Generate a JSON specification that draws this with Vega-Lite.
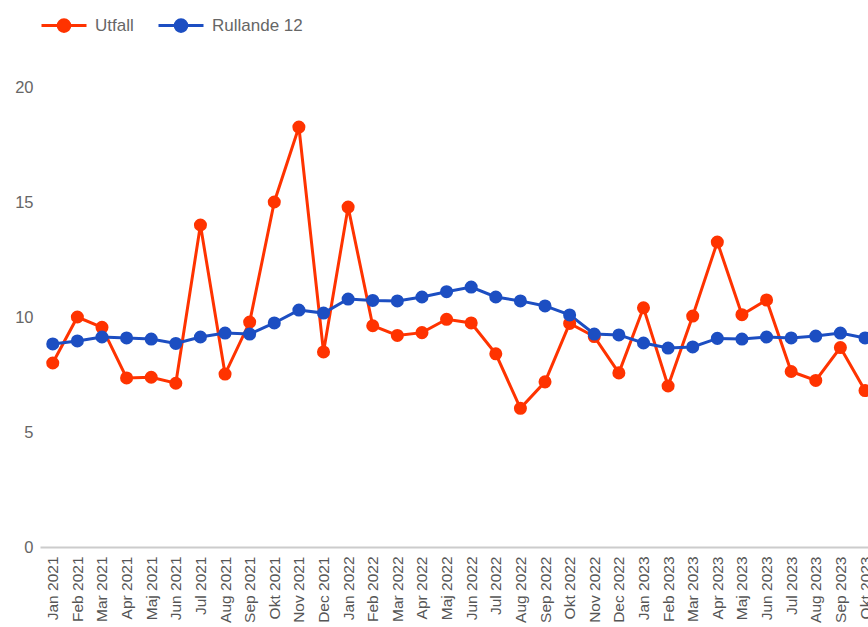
{
  "$schema": "https://vega.github.io/schema/vega-lite/v6.json",
  "autosize": {"type": "none"},
  "width": 828,
  "height": 460,
  "padding": {"left": 40, "top": 87, "right": 0, "bottom": 80},
  "background": "white",
  "config": {"view": {"stroke": null}, "font": "Liberation Sans"},
  "data": {
    "values": [
      {"month": "Jan 2021", "Utfall": 8.0, "Rullande 12": 8.83},
      {"month": "Feb 2021", "Utfall": 10.0, "Rullande 12": 8.96},
      {"month": "Mar 2021", "Utfall": 9.55, "Rullande 12": 9.13},
      {"month": "Apr 2021", "Utfall": 7.35, "Rullande 12": 9.09},
      {"month": "Maj 2021", "Utfall": 7.38, "Rullande 12": 9.04},
      {"month": "Jun 2021", "Utfall": 7.12, "Rullande 12": 8.85},
      {"month": "Jul 2021", "Utfall": 14.0, "Rullande 12": 9.13},
      {"month": "Aug 2021", "Utfall": 7.52, "Rullande 12": 9.3},
      {"month": "Sep 2021", "Utfall": 9.78, "Rullande 12": 9.26},
      {"month": "Okt 2021", "Utfall": 15.0, "Rullande 12": 9.74},
      {"month": "Nov 2021", "Utfall": 18.26, "Rullande 12": 10.3},
      {"month": "Dec 2021", "Utfall": 8.48, "Rullande 12": 10.17},
      {"month": "Jan 2022", "Utfall": 14.78, "Rullande 12": 10.78},
      {"month": "Feb 2022", "Utfall": 9.62, "Rullande 12": 10.72},
      {"month": "Mar 2022", "Utfall": 9.2, "Rullande 12": 10.7},
      {"month": "Apr 2022", "Utfall": 9.32, "Rullande 12": 10.87},
      {"month": "Maj 2022", "Utfall": 9.9, "Rullande 12": 11.1},
      {"month": "Jun 2022", "Utfall": 9.74, "Rullande 12": 11.3},
      {"month": "Jul 2022", "Utfall": 8.4, "Rullande 12": 10.87},
      {"month": "Aug 2022", "Utfall": 6.03, "Rullande 12": 10.7},
      {"month": "Sep 2022", "Utfall": 7.18, "Rullande 12": 10.48},
      {"month": "Okt 2022", "Utfall": 9.72, "Rullande 12": 10.09},
      {"month": "Nov 2022", "Utfall": 9.15, "Rullande 12": 9.26},
      {"month": "Dec 2022", "Utfall": 7.57, "Rullande 12": 9.22},
      {"month": "Jan 2023", "Utfall": 10.4, "Rullande 12": 8.87},
      {"month": "Feb 2023", "Utfall": 7.0, "Rullande 12": 8.65},
      {"month": "Mar 2023", "Utfall": 10.04, "Rullande 12": 8.7},
      {"month": "Apr 2023", "Utfall": 13.26, "Rullande 12": 9.07},
      {"month": "Maj 2023", "Utfall": 10.1, "Rullande 12": 9.04},
      {"month": "Jun 2023", "Utfall": 10.74, "Rullande 12": 9.13},
      {"month": "Jul 2023", "Utfall": 7.63, "Rullande 12": 9.09},
      {"month": "Aug 2023", "Utfall": 7.24, "Rullande 12": 9.17},
      {"month": "Sep 2023", "Utfall": 8.67, "Rullande 12": 9.3},
      {"month": "Okt 2023", "Utfall": 6.8, "Rullande 12": 9.09}
    ]
  },
  "transform": [{"fold": ["Utfall", "Rullande 12"], "as": ["series", "value"]}],
  "encoding": {
    "x": {
      "field": "month",
      "type": "ordinal",
      "sort": null,
      "scale": {"type": "point", "padding": 0.32, "align": 0.81},
      "axis": {
        "title": null,
        "labelAngle": 270,
        "ticks": false,
        "grid": false,
        "domainColor": "#cccccc",
        "domainWidth": 2,
        "labelPadding": 9,
        "labelFontSize": 15.5,
        "labelColor": "#555555"
      }
    },
    "y": {
      "field": "value",
      "type": "quantitative",
      "scale": {"domain": [0, 20], "nice": false},
      "axis": {
        "title": null,
        "values": [0, 5, 10, 15, 20],
        "grid": false,
        "ticks": false,
        "domain": false,
        "labelPadding": 7,
        "labelFontSize": 16.5,
        "labelColor": "#666666"
      }
    },
    "color": {
      "field": "series",
      "type": "nominal",
      "scale": {"domain": ["Utfall", "Rullande 12"], "range": ["#ff3300", "#1c4ec2"]},
      "legend": {
        "orient": "none",
        "legendX": 0,
        "legendY": -85.5,
        "direction": "horizontal",
        "title": null,
        "padding": 0,
        "symbolType": "M-1,0H1M-0.26,0A0.26,0.26 0 1,0 0.26,0A0.26,0.26 0 1,0 -0.26,0Z",
        "symbolSize": 2025,
        "symbolStrokeWidth": 3,
        "symbolOpacity": 1,
        "labelFontSize": 17,
        "labelColor": "#666666",
        "labelOffset": 7,
        "columnPadding": 18,
        "encode": {
          "symbols": {
            "update": {
              "fill": {"scale": "color", "field": "value"},
              "stroke": {"scale": "color", "field": "value"},
              "opacity": {"value": 1}
            }
          }
        }
      }
    }
  },
  "layer": [
    {"mark": {"type": "line", "strokeWidth": 3}},
    {"mark": {"type": "point", "filled": true, "size": 170, "opacity": 1}}
  ]
}
